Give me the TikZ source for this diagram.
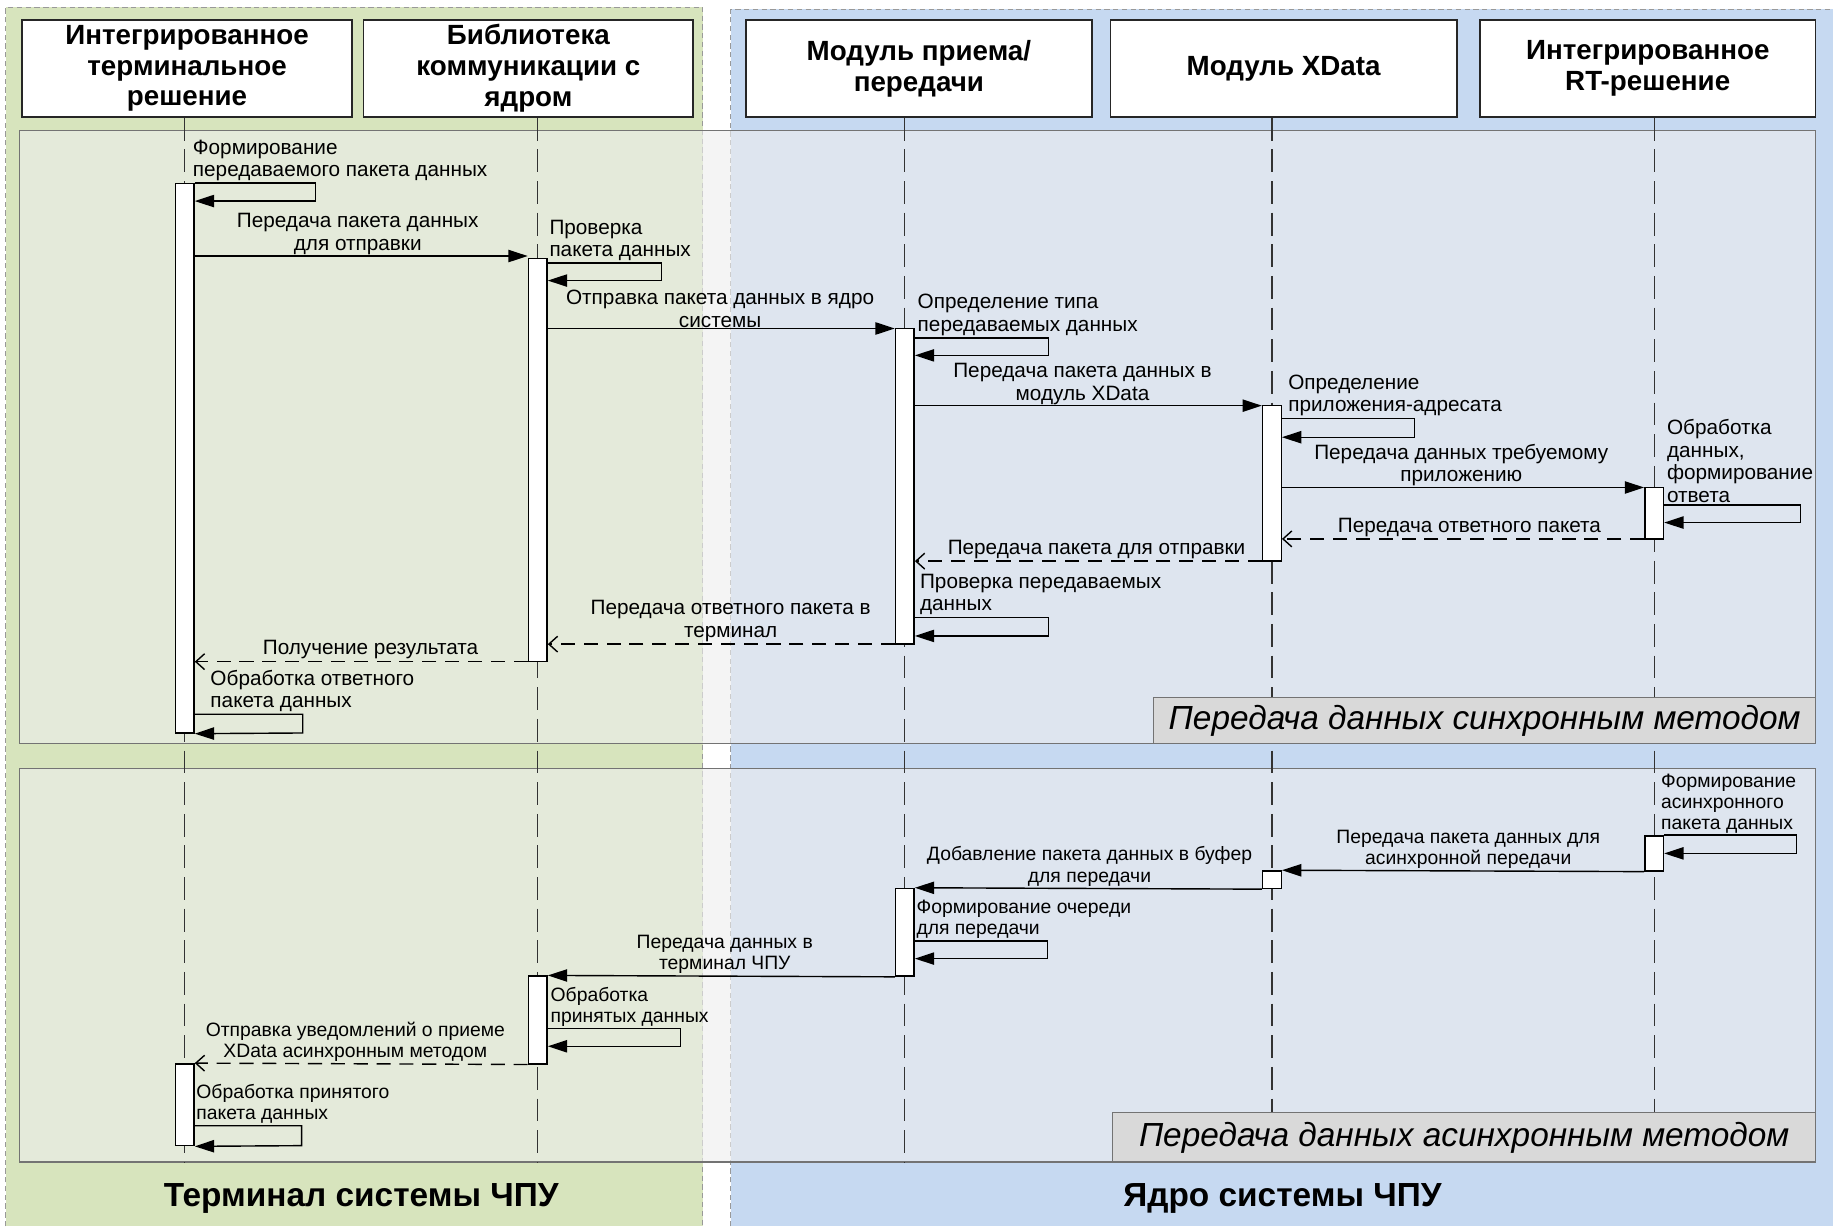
\documentclass[tikz,border=0pt]{standalone}
\usepackage{fontspec}
\setmainfont{Liberation Sans}
\usetikzlibrary{arrows.meta,fit}

\definecolor{termgreen}{HTML}{D7E4BD}
\definecolor{coreblue}{HTML}{C6D9F1}
\definecolor{framegray}{HTML}{EEEEEE}

\begin{document}
\begin{tikzpicture}[x=0.02338cm, y=-0.02338cm,
    head/.style={draw=black!85, line width=1pt, fill=white, inner sep=0pt, minimum height=1.94cm, align=center, font=\fontsize{15.8}{17.6}\selectfont\bfseries},
    bar/.style={draw, fill=white, line width=0.8pt, inner sep=0pt},
    life/.style={black!80, line width=0.7pt, dash pattern=on 13pt off 5pt},
    call/.style={line width=0.8pt, -{Triangle[length=11pt,width=7pt]}},
    reply/.style={line width=0.8pt, dash pattern=on 8pt off 5pt, -{Straight Barb[length=5pt,width=9pt]}},
    msg/.style={inner sep=0.5pt, align=center, font=\fontsize{11.8}{12.8}\selectfont},
    note/.style={msg, align=left, anchor=south west},
    amsg/.style={msg, font=\fontsize{11}{12}\selectfont},
    anote/.style={note, font=\fontsize{11}{12}\selectfont},
    frame/.style={draw=black!55, line width=0.6pt, fill=framegray, fill opacity=0.6},
    tag/.style={draw=black!55, line width=0.6pt, fill=black!15, inner sep=0pt, font=\fontsize{19}{22}\selectfont\itshape},
    zone/.style={font=\fontsize{19}{21}\selectfont\bfseries}]

    \useasboundingbox (0,0) rectangle (1568,1049);
    \fill[white] (0,0) rectangle (1568,1049);

    % Области: терминал и ядро
    \fill[termgreen] (5,6) rectangle (601,1049);
    \draw[black!40, dash pattern=on 3pt off 2pt] (5,1049) -- (5,6) -- (601,6) -- (601,1049);
    \fill[coreblue] (625,8) rectangle (1568,1049);
    \draw[black!40, dash pattern=on 3pt off 2pt] (625,1049) -- (625,8) -- (1568,8);

    \draw[frame] (17,112) rectangle (1553,636);
    \draw[frame] (17,657) rectangle (1553,994);

    % Участники
    \node[head, minimum width=6.593cm] (h1) at (160,58.5) {Интегрированное\\терминальное\\решение};
    \node[head, minimum width=6.593cm] (h2) at (452,58.5) {Библиотека\\коммуникации с\\ядром};
    \node[head, minimum width=6.92cm] (h3) at (786,58.5) {Модуль приема/\\передачи};
    \node[head, minimum width=6.92cm] (h4) at (1098,58.5) {Модуль XData};
    \node[head, minimum width=6.71cm] (h5) at (1409.5,58.5) {Интегрированное\\RT-решение};

    % Линии жизни
    \coordinate (l1) at (158,994);
    \coordinate (l2) at (460,994);
    \coordinate (l3) at (774,994);
    \coordinate (l4) at (1088,994);
    \coordinate (l5) at (1415,994);
    \draw[life] (h1.south -| l1) -- (l1);
    \draw[life] (h2.south -| l2) -- (l2);
    \draw[life] (h3.south -| l3) -- (l3);
    \draw[life] (h4.south -| l4) -- (l4);
    \draw[life] (h5.south -| l5) -- (l5);

    \node[tag, minimum width=13.233cm, minimum height=0.912cm] (sync) at (1270,616.5) {Передача данных синхронным методом};
    \node[tag, minimum width=14.051cm, minimum height=0.982cm] (async) at (1252.5,973) {Передача данных асинхронным методом};

    % Активации (синхронный метод)
    \node[bar, fit={(150,157) (166,627)}] (a1) {};
    \node[bar, fit={(452,221) (468,566)}] (a2) {};
    \node[bar, fit={(766,281) (782,551)}] (a3) {};
    \node[bar, fit={(1080,347) (1096,480)}] (a4) {};
    \node[bar, fit={(1407,417) (1423,461)}] (a5) {};

    % Активации (асинхронный метод)
    \node[bar, fit={(150,910) (166,980)}] (b1) {};
    \node[bar, fit={(452,835) (468,910)}] (b2) {};
    \node[bar, fit={(766,760) (782,835)}] (b3) {};
    \node[bar, fit={(1080,745) (1096,760)}] (b4) {};
    \node[bar, fit={(1407,715) (1423,745)}] (b5) {};

    % Сообщения (синхронный метод)
    \node[note] (t1) at (164,156) {Формирование\\передаваемого пакета данных};
    \draw[call] (a1.north east) -| (270,172) -- (a1.east |- 0,172);

    \node[msg, above] (t2) at (306,219) {Передача пакета данных\\для отправки};
    \draw[call] (a1.east |- 0,219) -- (a2.west |- 0,219);

    \node[note] (t3) at (469,224) {Проверка\\пакета данных};
    \draw[call] (a2.east |- 0,225) -| (566,240) -- (a2.east |- 0,240);

    \node[msg, above] (t4) at (616,281) {Отправка пакета данных в ядро\\системы};
    \draw[call] (a2.east |- 0,281) -- (a3.west |- 0,281);

    \node[note] (t5) at (784,288) {Определение типа\\передаваемых данных};
    \draw[call] (a3.east |- 0,289) -| (897,304) -- (a3.east |- 0,304);

    \node[msg, above] (t6) at (926,347) {Передача пакета данных в\\модуль XData};
    \draw[call] (a3.east |- 0,347) -- (a4.west |- 0,347);

    \node[note] (t7) at (1101,357) {Определение\\приложения-адресата};
    \draw[call] (a4.east |- 0,358) -| (1210,374) -- (a4.east |- 0,374);

    \node[msg, above] (t8) at (1250,417) {Передача данных требуемому\\приложению};
    \draw[call] (a4.east |- 0,417) -- (a5.west |- 0,417);

    \node[note] (t9) at (1425,431) {Обработка\\данных,\\формирование\\ответа};
    \draw[call] (a5.east |- 0,432) -| (1540,447) -- (a5.east |- 0,447);

    \node[msg, above] (t10) at (1257,460) {Передача ответного пакета};
    \draw[reply] (a5.west |- 0,461) -- (a4.east |- 0,461);

    \node[msg, above] (t11) at (938,479) {Передача пакета для отправки};
    \draw[reply] (a4.west |- 0,480) -- (a3.east |- 0,480);

    \node[note] (t12) at (786,527) {Проверка передаваемых\\данных};
    \draw[call] (a3.east |- 0,528) -| (897,544) -- (a3.east |- 0,544);

    \node[msg, above] (t13) at (625,550) {Передача ответного пакета в\\терминал};
    \draw[reply] (a3.west |- 0,551) -- (a2.east |- 0,551);

    \node[msg, above] (t14) at (317,565) {Получение результата};
    \draw[reply] (a2.west |- 0,566) -- (a1.east |- 0,566);

    \node[note] (t15) at (179,610) {Обработка ответного\\пакета данных};
    \draw[call] (a1.east |- 0,611) -| (259,627) -- (a1.south east);

    % Сообщения (асинхронный метод)
    \node[anote] (t16) at (1420,714) {Формирование\\асинхронного\\пакета данных};
    \draw[call] (b5.north east) -| (1537,730) -- (b5.east |- 0,730);

    \node[amsg, above] (t17) at (1256,744) {Передача пакета данных для\\асинхронной передачи};
    \draw[call] (b5.south west) -- (b4.north east);

    \node[amsg, above] (t18) at (932,759) {Добавление пакета данных в буфер\\для передачи};
    \draw[call] (b4.south west) -- (b3.north east);

    \node[anote] (t19) at (783,804) {Формирование очереди\\для передачи};
    \draw[call] (b3.east |- 0,805) -| (896,820) -- (b3.east |- 0,820);

    \node[amsg, above] (t20) at (620,834) {Передача данных в\\терминал ЧПУ};
    \draw[call] (b3.south west) -- (b2.north east);

    \node[anote] (t21) at (470,879) {Обработка\\принятых данных};
    \draw[call] (b2.east |- 0,880) -| (582,895) -- (b2.east |- 0,895);

    \node[amsg, above] (t22) at (304,909) {Отправка уведомлений о приеме\\XData асинхронным методом};
    \draw[reply] (b2.south west) -- (b1.north east);

    \node[anote] (t23) at (167,962) {Обработка принятого\\пакета данных};
    \draw[call] (b1.east |- 0,963) -| (258,980) -- (b1.south east);

    % Подписи областей
    \node[zone] (term) at (309,1025) {Терминал системы ЧПУ};
    \node[zone] (core) at (1097,1025) {Ядро системы ЧПУ};
\end{tikzpicture}
\end{document}
